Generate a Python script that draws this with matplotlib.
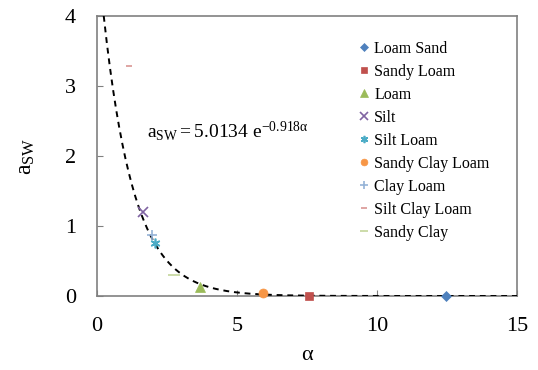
import numpy as np
import matplotlib.pyplot as plt

plt.rcParams['font.family'] = ['Liberation Serif', 'DejaVu Serif']
plt.rcParams['mathtext.fontset'] = 'custom'
plt.rcParams['mathtext.rm'] = 'Liberation Serif'
plt.rcParams['mathtext.it'] = 'Liberation Serif'

# soil classes and their (alpha, a_sw) points
soils = ['Loam Sand', 'Sandy Loam', 'Loam', 'Silt', 'Silt Loam',
         'Sandy Clay Loam', 'Clay Loam', 'Silt Clay Loam', 'Sandy Clay']
alpha = [12.46, 7.57, 3.68, 1.64, 2.07, 5.93, 1.96, 1.14, 2.75]
a_sw = [0.0, 0.0, 0.13, 1.2, 0.76, 0.04, 0.87, 3.29, 0.30]
markers = ['D', 's', '^', 'x', (6, 2, 0), 'o', '+', '_', '_']
sizes = [5, 6, 7, 7, 7, 6.5, 7, 5, 8]
colors = ['#4F81BD', '#C0504D', '#9BBB59', '#8064A2', '#4BACC6',
          '#F79646', '#95B3D7', '#D99694', '#C3D69B']

# fitted curve a_sw = 5.0134 exp(-0.918 alpha)
coef_a = 5.0134
coef_b = 0.918

fig = plt.figure(figsize=(5.38, 3.70), dpi=100)
ax = fig.add_axes([0.180, 0.200, 0.781, 0.757])

xs = np.linspace(np.log(coef_a / 4.0) / coef_b, 15, 400)
ax.plot(xs, coef_a * np.exp(-coef_b * xs), color='black', ls=(0, (3, 2.5)), lw=1.4, zorder=3)

for name, x, y, m, s, c in zip(soils, alpha, a_sw, markers, sizes, colors):
    thin = m in ('x', '+', '_') or isinstance(m, tuple)
    ax.plot([x], [y], ls='none', marker=m, ms=s, color=c, mec=c, mew=1.2 if thin else 0.5,
            label=name, zorder=4, clip_on=False)

ax.set_xlim(0, 15)
ax.set_ylim(0, 4)
ax.set_xticks([0, 5, 10, 15])
ax.set_yticks([0, 1, 2, 3, 4])
for sp in ax.spines.values():
    sp.set_color('#808080')
    sp.set_linewidth(1.2)
ax.tick_params(direction='in', length=4, color='#808080', labelsize=16, pad=15)

ax.set_xlabel('α', fontsize=16, labelpad=7)
ax.set_ylabel(r'$\mathregular{a_{SW}}$', fontsize=17, labelpad=20)

ax.text(1.8, 2.26, r'$\mathregular{a_{SW} = 5.0134\ e^{-0.918α}}$', fontsize=14)

leg = ax.legend(loc='upper left', bbox_to_anchor=(0.605, 0.94), frameon=False, fontsize=11.5,
                handlelength=0.6, handletextpad=0.35, labelspacing=0.44, borderpad=0,
                markerscale=0.75)

fig.savefig('out.png', dpi=100)
